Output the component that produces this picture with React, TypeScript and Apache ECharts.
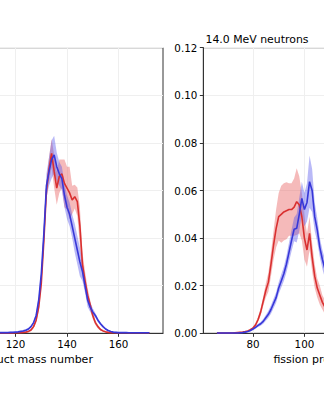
import { useEffect, useRef } from "react";
import * as echarts from "echarts";

// Heavy-fragment panel (left)
const heavyMass = [
  110, 111, 112, 113, 114, 115, 116, 117, 118, 119, 120, 121, 122, 123, 124, 125,
  126, 127, 128, 129, 130, 131, 132, 133, 134, 135, 136, 137, 138, 139, 140, 141,
  142, 143, 144, 145, 146, 147, 148, 149, 150, 151, 152, 153, 154, 155, 156, 157,
  158, 159, 160, 161, 162, 163, 164, 165, 166, 167, 168, 169, 170, 171, 172,
];
const heavyBlue = [
  0.0002, 0.0002, 0.0002, 0.0002, 0.0003, 0.0003, 0.0003, 0.0003, 0.0004, 0.0004, 0.0005, 0.0006, 0.0008, 0.001, 0.0013, 0.0018,
  0.0028, 0.0045, 0.0075, 0.014, 0.025, 0.042, 0.062, 0.068, 0.073, 0.075, 0.07, 0.067, 0.065, 0.058, 0.053, 0.05,
  0.045, 0.04, 0.035, 0.03, 0.026, 0.02, 0.014, 0.011, 0.009, 0.0075, 0.0055, 0.004, 0.0028, 0.0018, 0.0012, 0.0008,
  0.0005, 0.0004, 0.0003, 0.0003, 0.0003, 0.0003, 0.0002, 0.0002, 0.0002, 0.0002, 0.0002, 0.0002, 0.0002, 0.0002, 0.0002,
];
const heavyBlueErr = [
  0.0002, 0.0002, 0.0002, 0.0002, 0.0002, 0.0002, 0.0002, 0.0002, 0.0002, 0.0002, 0.0002, 0.0002, 0.0002, 0.0005, 0.0005, 0.0005,
  0.0005, 0.0005, 0.001, 0.0015, 0.002, 0.003, 0.005, 0.006, 0.008, 0.008, 0.006, 0.005, 0.005, 0.005, 0.005, 0.005,
  0.005, 0.006, 0.006, 0.006, 0.004, 0.003, 0.003, 0.002, 0.0015, 0.001, 0.0008, 0.0006, 0.0005, 0.0004, 0.0003, 0.0002,
  0.0002, 0.0002, 0.0002, 0.0002, 0.0002, 0.0002, 0.0002, 0.0002, 0.0002, 0.0002, 0.0002, 0.0002, 0.0002, 0.0002, 0.0002,
];
const heavyRed = [
  0.0001, 0.0001, 0.0001, 0.0001, 0.0001, 0.0001, 0.0001, 0.0001, 0.0001, 0.0001, 0.0002, 0.0002, 0.0003, 0.0004, 0.0005, 0.0008,
  0.0014, 0.0028, 0.0055, 0.011, 0.021, 0.039, 0.06, 0.069, 0.0756, 0.068, 0.061, 0.066, 0.067, 0.063, 0.061, 0.059,
  0.056, 0.0574, 0.0553, 0.045, 0.029, 0.022, 0.016, 0.012, 0.0075, 0.0045, 0.0028, 0.0016, 0.001, 0.0006, 0.0004, 0.0003,
  0.0002, 0.0002, 0.0002, 0.0002, 0.0002, 0.0002, 0.0002, 0.0002, 0.0002, 0.0002, 0.0002, 0.0002, 0.0002, 0.0002, 0.0002,
];
const heavyRedErr = [
  0.0001, 0.0001, 0.0001, 0.0001, 0.0001, 0.0001, 0.0001, 0.0001, 0.0001, 0.0001, 0.0001, 0.0001, 0.0002, 0.0002, 0.0003, 0.0004,
  0.0005, 0.0008, 0.001, 0.0015, 0.002, 0.003, 0.004, 0.005, 0.006, 0.007, 0.007, 0.007, 0.006, 0.01, 0.009, 0.011,
  0.006, 0.005, 0.006, 0.008, 0.005, 0.004, 0.003, 0.002, 0.0015, 0.001, 0.0008, 0.0005, 0.0003, 0.0002, 0.0002, 0.0001,
  0.0001, 0.0001, 0.0001, 0.0001, 0.0001, 0.0001, 0.0001, 0.0001, 0.0001, 0.0001, 0.0001, 0.0001, 0.0001, 0.0001, 0.0001,
];

// Light-fragment panel (right, 14.0 MeV neutrons)
const lightMass = [
  66, 67, 68, 69, 70, 71, 72, 73, 74, 75, 76, 77, 78, 79, 80, 81,
  82, 83, 84, 85, 86, 87, 88, 89, 90, 91, 92, 93, 94, 95, 96, 97,
  98, 99, 100, 101, 102, 103, 104, 105, 106, 107, 108, 109, 110,
];
const lightRed = [
  0.0001, 0.0001, 0.0001, 0.0001, 0.0001, 0.0001, 0.0001, 0.0002, 0.0003, 0.0004, 0.0005, 0.0007, 0.001, 0.0015, 0.0022, 0.0035,
  0.0058, 0.009, 0.0135, 0.018, 0.0215, 0.029, 0.037, 0.044, 0.049, 0.05, 0.051, 0.0515, 0.052, 0.052, 0.053, 0.0553,
  0.054, 0.049, 0.04, 0.035, 0.042, 0.032, 0.024, 0.019, 0.016, 0.013, 0.011, 0.009, 0.008,
];
const lightRedErr = [
  0.0001, 0.0001, 0.0001, 0.0001, 0.0001, 0.0001, 0.0001, 0.0001, 0.0001, 0.0002, 0.0002, 0.0002, 0.0003, 0.0004, 0.0005, 0.0008,
  0.001, 0.0015, 0.002, 0.003, 0.004, 0.005, 0.006, 0.008, 0.01, 0.012, 0.012, 0.012, 0.011, 0.011, 0.012, 0.014,
  0.012, 0.01, 0.009, 0.007, 0.007, 0.006, 0.005, 0.004, 0.004, 0.003, 0.003, 0.003, 0.003,
];
const lightBlue = [
  0.0001, 0.0001, 0.0001, 0.0001, 0.0001, 0.0001, 0.0001, 0.0001, 0.0001, 0.0002, 0.0003, 0.0005, 0.0008, 0.0012, 0.0018, 0.0025,
  0.0033, 0.004, 0.005, 0.0065, 0.008, 0.01, 0.0125, 0.015, 0.019, 0.022, 0.025, 0.029, 0.034, 0.039, 0.0437, 0.0441,
  0.05, 0.0567, 0.052, 0.055, 0.0637, 0.06, 0.049, 0.0434, 0.036, 0.031, 0.027, 0.023, 0.02,
];
const lightBlueErr = [
  0.0001, 0.0001, 0.0001, 0.0001, 0.0001, 0.0001, 0.0001, 0.0001, 0.0001, 0.0001, 0.0001, 0.0002, 0.0003, 0.0004, 0.0005, 0.0006,
  0.0007, 0.0008, 0.001, 0.0012, 0.0015, 0.0018, 0.002, 0.0022, 0.0025, 0.0028, 0.003, 0.0035, 0.004, 0.0045, 0.005, 0.006,
  0.007, 0.007, 0.007, 0.008, 0.011, 0.009, 0.006, 0.005, 0.004, 0.004, 0.004, 0.004, 0.004,
];

const xTicks = [80, 100, 120, 140, 160];
const xMin = 60.7;
const xMax = 177.3;
const yTicks = [0, 0.02, 0.04, 0.06, 0.08, 0.1, 0.12];
const title = "14.0 MeV neutrons";
const xName = "fission product mass number";

const RED = "#d93030";
const BLUE = "#3737d8";
const RED_BAND = "rgba(230, 90, 90, 0.42)";
const BLUE_BAND = "rgba(80, 80, 235, 0.40)";
const FONT = "DejaVu Sans";

function band(mass: number[], vals: number[], errs: number[], color: string, gi: number) {
  return {
    type: "custom",
    xAxisIndex: gi,
    yAxisIndex: gi,
    silent: true,
    z: 1,
    data: [[mass[0], vals[0]]],
    renderItem: (_p: any, api: any) => {
      const pts: number[][] = [];
      for (let i = 0; i < mass.length; i++) pts.push(api.coord([mass[i], vals[i] + errs[i]]));
      for (let i = mass.length - 1; i >= 0; i--)
        pts.push(api.coord([mass[i], Math.max(0, vals[i] - errs[i])]));
      return { type: "polygon", shape: { points: pts }, style: { fill: color } };
    },
  };
}

function line(mass: number[], vals: number[], color: string, gi: number, z: number) {
  return {
    type: "line",
    xAxisIndex: gi,
    yAxisIndex: gi,
    showSymbol: false,
    symbol: "none",
    silent: true,
    z,
    data: mass.map((m, i) => [m, vals[i]]),
    lineStyle: { color, width: 1.6 },
  };
}

function xAxis(gi: number) {
  return {
    type: "value",
    gridIndex: gi,
    min: xMin,
    max: xMax,
    name: xName,
    nameLocation: "middle",
    nameGap: 20,
    nameTextStyle: { fontSize: 11, color: "#000", fontFamily: FONT },
    axisLine: { show: true, lineStyle: { color: "#333", width: 1 } },
    axisTick: { show: true, length: 3.5, customValues: xTicks, lineStyle: { color: "#333" } },
    axisLabel: {
      customValues: xTicks,
      margin: 6,
      fontSize: 10.3,
      color: "#000",
      fontFamily: FONT,
      formatter: (v: number) => String(Math.round(v)),
    },
    splitLine: { show: true, lineStyle: { color: "#efefef", width: 1 } },
  };
}

function yAxis(gi: number) {
  return {
    type: "value",
    gridIndex: gi,
    min: 0,
    max: 0.12,
    interval: 0.02,
    axisLine: { show: true, lineStyle: { color: "#333", width: 1 } },
    axisTick: { show: true, length: 3.5, lineStyle: { color: "#333" } },
    axisLabel: {
      margin: 6,
      fontSize: 10.3,
      color: "#000",
      fontFamily: FONT,
      formatter: (v: number) => (yTicks.some((t) => Math.abs(t - v) < 1e-9) ? v.toFixed(2) : ""),
    },
    splitLine: { show: true, lineStyle: { color: "#efefef", width: 1 } },
  };
}

export default function App() {
  const ref = useRef<HTMLDivElement>(null);
  useEffect(() => {
    document.body.style.margin = "0";
    if (!ref.current) return;
    const chart = echarts.init(ref.current, null, { renderer: "svg" });
    const gridBase = {
      top: 47.7,
      height: 285.6,
      width: 300,
      show: true,
      borderColor: "#333",
      borderWidth: 1,
      backgroundColor: "transparent",
      containLabel: false,
      outerBoundsMode: "none",
    };
    chart.setOption({
      animation: false,
      backgroundColor: "#fff",
      title: {
        text: title,
        left: 205.5,
        top: 34,
        padding: 0,
        textStyle: { fontSize: 10.9, fontWeight: "normal", color: "#000", fontFamily: FONT },
      },
      grid: [
        { ...gridBase, left: -137 },
        { ...gridBase, left: 203.3 },
      ],
      xAxis: [xAxis(0), xAxis(1)],
      yAxis: [yAxis(0), yAxis(1)],
      series: [
        band(heavyMass, heavyRed, heavyRedErr, RED_BAND, 0),
        band(heavyMass, heavyBlue, heavyBlueErr, BLUE_BAND, 0),
        line(heavyMass, heavyRed, RED, 0, 3),
        line(heavyMass, heavyBlue, BLUE, 0, 4),
        band(lightMass, lightRed, lightRedErr, RED_BAND, 1),
        band(lightMass, lightBlue, lightBlueErr, BLUE_BAND, 1),
        line(lightMass, lightRed, RED, 1, 3),
        line(lightMass, lightBlue, BLUE, 1, 4),
      ],
    });
    return () => chart.dispose();
  }, []);
  return <div ref={ref} style={{ width: 324, height: 400 }} />;
}
